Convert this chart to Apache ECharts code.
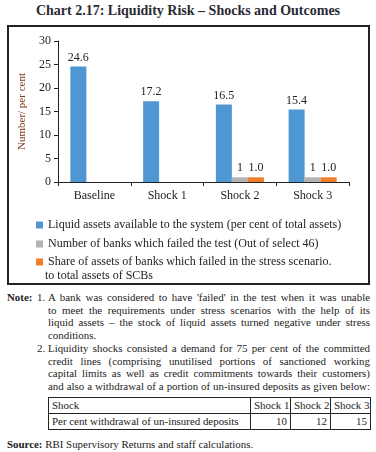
<!DOCTYPE html>
<html>
<head>
<meta charset="utf-8">
<script src="https://cdn.jsdelivr.net/npm/echarts@6/dist/echarts.min.js"></script>
<style>
  body { margin: 0; width: 376px; height: 452px; background: #fff; position: relative; overflow: hidden;
         font-family: "Liberation Serif", serif; color: #222; }
  #title { position: absolute; left: 0; top: 2px; width: 376px; text-align: center;
           font-weight: bold; font-size: 14px; line-height: 18px; color: #2a2a33; }
  #chart_box { position: absolute; left: 7px; top: 25px; width: 363px; height: 260px;
               box-sizing: border-box; border: 2px solid #222; }
  #chart { width: 100%; height: 100%; }
  .notes { position: absolute; left: 7px; top: 291px; width: 363px; font-size: 10.9px; line-height: 12.7px; }
  .lbl { position: absolute; left: 0; font-weight: bold; }
  .num { position: absolute; left: 30px; }
  .ln { position: absolute; left: 41px; width: 322px; height: 12.7px; white-space: nowrap;
        text-align: justify; text-align-last: justify; }
  .ln.end { text-align: left; text-align-last: left; }
  #shock_table { position: absolute; left: 48px; top: 397px; border-collapse: collapse;
                 table-layout: fixed; width: 322px; font-size: 10.9px; }
  #shock_table td { border: 1px solid #222; padding: 0 3px; height: 15px; line-height: 15px;
                    white-space: nowrap; overflow: hidden; }
  #source { position: absolute; left: 7px; top: 437px; font-size: 10.9px; line-height: 14px; }
</style>
</head>
<body>
<div id="title">Chart 2.17: Liquidity Risk – Shocks and Outcomes</div>
<div id="chart_box"><div id="chart"></div></div>

<div class="notes">
  <span class="lbl" style="top:0">Note:</span>
  <span class="num" style="top:0">1.</span>
  <div class="ln" style="top:0">A bank was considered to have 'failed' in the test when it was unable</div>
  <div class="ln" style="top:12.7px">to meet the requirements under stress scenarios with the help of its</div>
  <div class="ln" style="top:25.4px">liquid assets – the stock of liquid assets turned negative under stress</div>
  <div class="ln end" style="top:38.1px">conditions.</div>
  <span class="num" style="top:50.8px">2.</span>
  <div class="ln" style="top:50.8px">Liquidity shocks consisted a demand for 75 per cent of the committed</div>
  <div class="ln" style="top:63.5px">credit lines (comprising unutilised portions of sanctioned working</div>
  <div class="ln" style="top:76.2px">capital limits as well as credit commitments towards their customers)</div>
  <div class="ln" style="top:88.9px">and also a withdrawal of a portion of un-insured deposits as given below:</div>
</div>
<table id="shock_table">
  <colgroup><col style="width:202px"><col style="width:40px"><col style="width:40px"><col style="width:40px"></colgroup>
</table>
<div id="source"><b>Source:</b> RBI Supervisory Returns and staff calculations.</div>

<script>
  // chart data
  var categories = ['Baseline', 'Shock 1', 'Shock 2', 'Shock 3'];
  var liquid_assets = [24.6, 17.2, 16.5, 15.4];
  var failed_banks = [null, null, 1, 1];
  var failed_share = [null, null, 1.0, 1.0];

  // note table data
  var shock_names = ['Shock 1', 'Shock 2', 'Shock 3'];
  var withdrawal_pct = [10, 12, 15];

  var names = [
    'Liquid assets available to the system (per cent of total assets)',
    'Number of banks which failed the test (Out of select 46)',
    'Share of assets of banks which failed in the stress scenario.'
  ];
  var name_tail = ' to total assets of SCBs';
  var colors = ['#4f97d2', '#b3b3b3', '#f27d2d'];
  var font = 'Liberation Serif';

  var table = document.getElementById('shock_table');
  var row1 = '<tr><td>Shock</td>';
  var row2 = '<tr><td>Per cent withdrawal of un-insured deposits</td>';
  shock_names.forEach(function (s, i) {
    row1 += '<td style="text-align:right">' + s + '</td>';
    row2 += '<td style="text-align:right">' + withdrawal_pct[i] + '</td>';
  });
  table.innerHTML += row1 + '</tr>' + row2 + '</tr>';

  function bar(i, data, fmt) {
    return {
      name: names[i],
      type: 'bar',
      color: colors[i],
      data: data,
      barGap: 0,
      barCategoryGap: '34%',
      label: {
        show: true,
        position: 'top',
        distance: 3,
        color: '#222',
        fontFamily: font,
        fontSize: 12,
        formatter: function (p) { return fmt(p.value); }
      }
    };
  }

  function legend(i, top) {
    return {
      orient: 'vertical',
      left: 22,
      top: top,
      itemWidth: 7,
      itemHeight: 7,
      icon: 'rect',
      selectedMode: false,
      textStyle: { color: '#222', fontSize: 12, fontFamily: font },
      data: [names[i]]
    };
  }

  var option = {
    animation: false,
    textStyle: { fontFamily: font },
    grid: { left: 38, top: 14, width: 302, height: 141 },
    legend: [legend(0, 187), legend(1, 206), legend(2, 224)],
    graphic: [{
      type: 'text',
      left: 33,
      top: 243,
      style: { text: name_tail, fill: '#222', font: '12px "Liberation Serif"' }
    }],
    xAxis: {
      type: 'category',
      data: categories,
      axisLine: { lineStyle: { color: '#222', width: 1 } },
      axisTick: { show: true, length: 4, lineStyle: { color: '#222' } },
      axisLabel: { color: '#222', fontSize: 12, fontFamily: font, margin: 8 }
    },
    yAxis: {
      type: 'value',
      min: 0,
      max: 30,
      interval: 5,
      name: 'Number/ per cent',
      nameLocation: 'middle',
      nameGap: 30,
      nameTextStyle: { color: '#7e3a1c', fontSize: 11, fontFamily: font },
      axisLine: { show: true, lineStyle: { color: '#222', width: 1 } },
      axisTick: { show: true, length: 4, lineStyle: { color: '#222' } },
      axisLabel: { color: '#222', fontSize: 12, fontFamily: font, margin: 7 },
      splitLine: { show: false }
    },
    series: [
      bar(0, liquid_assets, function (v) { return v.toFixed(1); }),
      bar(1, failed_banks, function (v) { return String(v); }),
      bar(2, failed_share, function (v) { return v.toFixed(1); })
    ]
  };

  var chart = echarts.init(document.getElementById('chart'));
  chart.setOption(option);
</script>
</body>
</html>
